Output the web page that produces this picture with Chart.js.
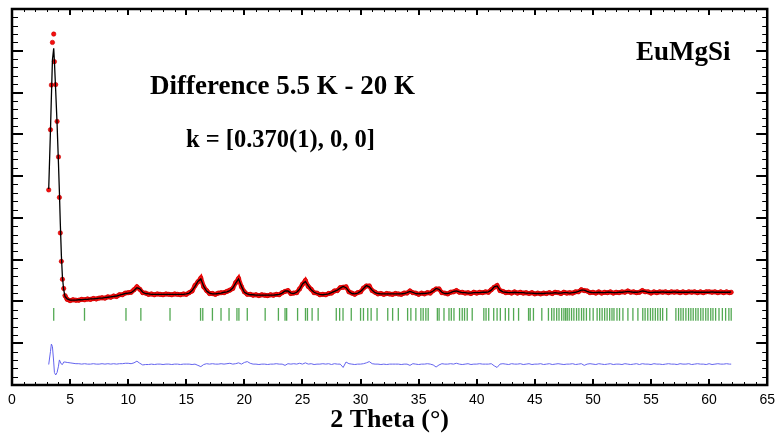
<!DOCTYPE html>
<html>
<head>
<meta charset="utf-8">
<script src="https://cdn.jsdelivr.net/npm/chart.js@4.4.1/dist/chart.umd.min.js"></script>
<style>
  html, body { margin: 0; padding: 0; background: #fff; }
</style>
</head>
<body>
<canvas id="chart" width="782" height="440"></canvas>
<script>
/* EuMgSi neutron difference pattern (5.5 K - 20 K) */

// 2 theta grid (deg)
const theta = [
  3.16, 3.31, 3.39, 3.48, 3.59, 3.65, 3.76, 3.88, 4.00, 4.08, 4.16, 4.25, 4.34, 4.45, 4.56, 4.75,
  5, 5.25, 5.5, 5.75, 6, 6.25, 6.5, 6.75, 7, 7.25, 7.5, 7.75, 8, 8.25, 8.5, 8.75,
  9, 9.25, 9.5, 9.75, 10, 10.25, 10.5, 10.75, 11, 11.25, 11.5, 11.75, 12, 12.25, 12.5, 12.75,
  13, 13.25, 13.5, 13.75, 14, 14.25, 14.5, 14.75, 15, 15.25, 15.5, 15.75, 16, 16.25, 16.5, 16.75,
  17, 17.25, 17.5, 17.75, 18, 18.25, 18.5, 18.75, 19, 19.25, 19.5, 19.75, 20, 20.25, 20.5, 20.75,
  21, 21.25, 21.5, 21.75, 22, 22.25, 22.5, 22.75, 23, 23.25, 23.5, 23.75, 24, 24.25, 24.5, 24.75,
  25, 25.25, 25.5, 25.75, 26, 26.25, 26.5, 26.75, 27, 27.25, 27.5, 27.75, 28, 28.25, 28.5, 28.75,
  29, 29.25, 29.5, 29.75, 30, 30.25, 30.5, 30.75, 31, 31.25, 31.5, 31.75, 32, 32.25, 32.5, 32.75,
  33, 33.25, 33.5, 33.75, 34, 34.25, 34.5, 34.75, 35, 35.25, 35.5, 35.75, 36, 36.25, 36.5, 36.75,
  37, 37.25, 37.5, 37.75, 38, 38.25, 38.5, 38.75, 39, 39.25, 39.5, 39.75, 40, 40.25, 40.5, 40.75,
  41, 41.25, 41.5, 41.75, 42, 42.25, 42.5, 42.75, 43, 43.25, 43.5, 43.75, 44, 44.25, 44.5, 44.75,
  45, 45.25, 45.5, 45.75, 46, 46.25, 46.5, 46.75, 47, 47.25, 47.5, 47.75, 48, 48.25, 48.5, 48.75,
  49, 49.25, 49.5, 49.75, 50, 50.25, 50.5, 50.75, 51, 51.25, 51.5, 51.75, 52, 52.25, 52.5, 52.75,
  53, 53.25, 53.5, 53.75, 54, 54.25, 54.5, 54.75, 55, 55.25, 55.5, 55.75, 56, 56.25, 56.5, 56.75,
  57, 57.25, 57.5, 57.75, 58, 58.25, 58.5, 58.75, 59, 59.25, 59.5, 59.75, 60, 60.25, 60.5, 60.75,
  61, 61.25, 61.5, 61.75, 61.9
];

// observed intensity (arb. units, same grid)
const observed = [
  4.67, 6.11, 7.18, 8.20, 8.40, 7.74, 7.19, 6.31, 5.46, 4.49, 3.64, 2.96, 2.53, 2.31, 2.14, 2.05,
  2.02, 2.04, 2.03, 2.03, 2.05, 2.04, 2.06, 2.05, 2.07, 2.06, 2.08, 2.09, 2.08, 2.11, 2.10, 2.13,
  2.12, 2.16, 2.16, 2.20, 2.21, 2.22, 2.28, 2.35, 2.29, 2.21, 2.20, 2.17, 2.18, 2.16, 2.18, 2.17,
  2.16, 2.18, 2.17, 2.16, 2.18, 2.17, 2.16, 2.18, 2.17, 2.21, 2.25, 2.38, 2.47, 2.56, 2.35, 2.26,
  2.19, 2.19, 2.17, 2.20, 2.21, 2.21, 2.24, 2.27, 2.31, 2.45, 2.55, 2.35, 2.23, 2.17, 2.17, 2.15,
  2.16, 2.14, 2.16, 2.15, 2.14, 2.16, 2.15, 2.17, 2.16, 2.21, 2.24, 2.26, 2.19, 2.20, 2.21, 2.30,
  2.41, 2.50, 2.36, 2.29, 2.21, 2.20, 2.16, 2.17, 2.16, 2.19, 2.20, 2.25, 2.26, 2.33, 2.34, 2.35,
  2.23, 2.20, 2.17, 2.21, 2.23, 2.32, 2.37, 2.37, 2.26, 2.22, 2.18, 2.19, 2.17, 2.19, 2.18, 2.17,
  2.19, 2.18, 2.17, 2.20, 2.20, 2.25, 2.21, 2.20, 2.17, 2.20, 2.18, 2.21, 2.20, 2.26, 2.30, 2.30,
  2.21, 2.20, 2.18, 2.22, 2.23, 2.26, 2.22, 2.22, 2.20, 2.21, 2.19, 2.22, 2.20, 2.22, 2.21, 2.23,
  2.22, 2.28, 2.34, 2.38, 2.26, 2.24, 2.21, 2.22, 2.20, 2.23, 2.20, 2.22, 2.20, 2.21, 2.19, 2.21,
  2.18, 2.20, 2.18, 2.20, 2.19, 2.21, 2.19, 2.22, 2.21, 2.19, 2.22, 2.20, 2.21, 2.20, 2.23, 2.23,
  2.28, 2.26, 2.25, 2.21, 2.22, 2.20, 2.23, 2.20, 2.22, 2.21, 2.23, 2.20, 2.22, 2.21, 2.23, 2.22,
  2.25, 2.22, 2.23, 2.21, 2.22, 2.26, 2.23, 2.23, 2.20, 2.23, 2.21, 2.23, 2.22, 2.23, 2.21, 2.23,
  2.22, 2.23, 2.21, 2.23, 2.21, 2.23, 2.22, 2.23, 2.21, 2.23, 2.21, 2.23, 2.23, 2.22, 2.23, 2.21,
  2.23, 2.21, 2.23, 2.21, 2.22
];

// calculated profile
const calculated = [
  4.69, 6.08, 6.90, 7.78, 8.06, 7.75, 7.05, 6.25, 5.30, 4.62, 3.85, 3.10, 2.58, 2.28, 2.12, 2.06,
  2.03, 2.03, 2.03, 2.04, 2.04, 2.05, 2.05, 2.06, 2.06, 2.07, 2.08, 2.08, 2.09, 2.10, 2.11, 2.12,
  2.13, 2.15, 2.17, 2.19, 2.20, 2.21, 2.26, 2.33, 2.30, 2.22, 2.19, 2.18, 2.17, 2.17, 2.17, 2.17,
  2.17, 2.17, 2.17, 2.17, 2.17, 2.17, 2.17, 2.17, 2.18, 2.20, 2.26, 2.36, 2.48, 2.54, 2.36, 2.25,
  2.20, 2.18, 2.18, 2.19, 2.20, 2.22, 2.23, 2.26, 2.32, 2.44, 2.54, 2.36, 2.22, 2.18, 2.16, 2.16,
  2.15, 2.15, 2.15, 2.15, 2.15, 2.15, 2.15, 2.16, 2.17, 2.20, 2.25, 2.25, 2.20, 2.19, 2.22, 2.29,
  2.42, 2.48, 2.37, 2.28, 2.22, 2.19, 2.17, 2.16, 2.17, 2.18, 2.21, 2.24, 2.27, 2.32, 2.36, 2.33,
  2.24, 2.19, 2.18, 2.20, 2.24, 2.31, 2.38, 2.35, 2.27, 2.21, 2.19, 2.18, 2.18, 2.18, 2.18, 2.18,
  2.18, 2.18, 2.18, 2.19, 2.21, 2.24, 2.22, 2.19, 2.18, 2.19, 2.19, 2.20, 2.21, 2.25, 2.31, 2.29,
  2.22, 2.19, 2.19, 2.21, 2.24, 2.25, 2.23, 2.21, 2.21, 2.20, 2.20, 2.21, 2.21, 2.21, 2.22, 2.22,
  2.23, 2.27, 2.35, 2.37, 2.27, 2.23, 2.22, 2.21, 2.21, 2.22, 2.21, 2.21, 2.21, 2.20, 2.20, 2.20,
  2.19, 2.19, 2.19, 2.19, 2.20, 2.20, 2.20, 2.21, 2.20, 2.20, 2.21, 2.21, 2.20, 2.21, 2.22, 2.24,
  2.27, 2.27, 2.24, 2.22, 2.21, 2.21, 2.22, 2.21, 2.21, 2.22, 2.22, 2.21, 2.21, 2.22, 2.22, 2.23,
  2.24, 2.23, 2.22, 2.22, 2.23, 2.25, 2.24, 2.22, 2.21, 2.22, 2.22, 2.22, 2.23, 2.22, 2.22, 2.22,
  2.23, 2.22, 2.22, 2.22, 2.22, 2.22, 2.23, 2.22, 2.22, 2.22, 2.22, 2.22, 2.22, 2.23, 2.22, 2.22,
  2.22, 2.22, 2.22, 2.22, 2.23
];

// obs - calc, drawn with its own offset below the tick row
const difference = [
  0.49, 0.80, 0.98, 0.92, 0.55, 0.30, 0.24, 0.30, 0.45, 0.60, 0.55, 0.50, 0.49, 0.55, 0.55, 0.54,
  0.53, 0.52, 0.51, 0.51, 0.50, 0.51, 0.50, 0.50, 0.51, 0.50, 0.50, 0.51, 0.50, 0.51, 0.50, 0.51,
  0.50, 0.51, 0.51, 0.52, 0.52, 0.51, 0.53, 0.57, 0.52, 0.48, 0.49, 0.49, 0.50, 0.49, 0.50, 0.50,
  0.49, 0.50, 0.50, 0.49, 0.50, 0.50, 0.49, 0.50, 0.50, 0.50, 0.49, 0.50, 0.47, 0.44, 0.49, 0.51,
  0.50, 0.51, 0.50, 0.50, 0.51, 0.50, 0.51, 0.52, 0.50, 0.51, 0.53, 0.50, 0.54, 0.56, 0.52, 0.50,
  0.50, 0.49, 0.50, 0.50, 0.49, 0.50, 0.50, 0.51, 0.50, 0.50, 0.47, 0.51, 0.50, 0.51, 0.50, 0.52,
  0.50, 0.53, 0.50, 0.51, 0.49, 0.50, 0.50, 0.51, 0.50, 0.51, 0.49, 0.51, 0.50, 0.50, 0.42, 0.55,
  0.51, 0.50, 0.49, 0.50, 0.50, 0.51, 0.53, 0.56, 0.51, 0.50, 0.50, 0.49, 0.50, 0.49, 0.50, 0.50,
  0.50, 0.50, 0.49, 0.50, 0.50, 0.47, 0.51, 0.50, 0.49, 0.50, 0.50, 0.51, 0.50, 0.48, 0.43, 0.48,
  0.51, 0.50, 0.50, 0.51, 0.50, 0.52, 0.50, 0.49, 0.50, 0.51, 0.49, 0.50, 0.50, 0.51, 0.50, 0.50,
  0.50, 0.51, 0.46, 0.42, 0.50, 0.51, 0.50, 0.49, 0.51, 0.50, 0.50, 0.51, 0.49, 0.50, 0.51, 0.49,
  0.50, 0.50, 0.51, 0.49, 0.50, 0.51, 0.49, 0.50, 0.51, 0.50, 0.49, 0.50, 0.50, 0.51, 0.49, 0.50,
  0.51, 0.47, 0.50, 0.51, 0.50, 0.49, 0.51, 0.50, 0.49, 0.50, 0.51, 0.49, 0.50, 0.50, 0.49, 0.51,
  0.50, 0.49, 0.50, 0.51, 0.49, 0.51, 0.50, 0.50, 0.49, 0.51, 0.50, 0.50, 0.49, 0.50, 0.51, 0.50,
  0.50, 0.49, 0.51, 0.50, 0.50, 0.51, 0.49, 0.50, 0.51, 0.50, 0.50, 0.49, 0.51, 0.49, 0.50, 0.51,
  0.50, 0.50, 0.51, 0.50, 0.50
];

// magnetic reflection positions (2 theta)
const braggPositions = [
  3.59, 6.24, 9.81, 11.09, 13.60, 16.23, 16.42, 17.25, 17.99, 18.68, 19.36, 19.53, 20.25,
  21.79, 22.93, 23.50, 23.64, 24.58, 25.26, 25.43, 25.83, 26.35, 27.91, 28.20, 28.49, 29.20,
  30.00, 30.25, 30.62, 30.91, 31.42, 32.34, 32.76, 33.25, 34.05, 34.33, 34.76, 35.19, 35.39,
  35.62, 35.82, 36.61, 36.76, 37.18, 37.61, 37.81, 38.04, 38.52, 38.75, 38.95, 39.18, 39.61,
  40.61, 40.80, 41.03, 41.46, 41.75, 42.03, 42.46, 42.75, 43.17, 43.60, 44.46, 44.60, 44.88,
  45.60, 46.17, 46.45, 46.65, 46.88, 47.08, 47.31, 47.50, 47.65, 47.79, 47.96, 48.16, 48.36,
  48.59, 48.79, 49.02, 49.21, 49.44, 49.73, 50.02, 50.36, 50.58, 50.79, 51.01, 51.22, 51.44,
  51.64, 51.81, 52.07, 52.29, 52.58, 53.01, 53.44, 53.87, 54.29, 54.49, 54.72, 54.95, 55.15,
  55.37, 55.58, 55.80, 56.00, 56.35, 57.14, 57.37, 57.57, 57.77, 58.00, 58.23, 58.43, 58.63,
  58.85, 59.05, 59.28, 59.48, 59.71, 59.91, 60.14, 60.33, 60.56, 60.85, 61.14, 61.42, 61.70, 61.90
];
const braggLevel = 1.69;

const xMin = 0, xMax = 65, xStep = 5;
const yMin = 0, yMax = 9;

const RED = 'rgb(245, 15, 15)';
const SERIF = '"Liberation Serif", "Times New Roman", serif';

// box frame + inward ticks on all four sides, plus the text labels
const frameTicks = {
  id: 'frameTicks',
  afterDatasetsDraw(chart) {
    const { ctx, chartArea: a, scales: { x, y } } = chart;
    ctx.save();
    ctx.strokeStyle = '#000';

    // minor ticks
    ctx.lineWidth = 1;
    ctx.beginPath();
    for (let v = xMin; v <= xMax; v++) {
      if (v % xStep === 0) continue;
      const px = Math.round(x.getPixelForValue(v)) + 0.5;
      ctx.moveTo(px, a.bottom); ctx.lineTo(px, a.bottom - 3);
      ctx.moveTo(px, a.top); ctx.lineTo(px, a.top + 3);
    }
    for (let i = 0; i <= yMax * 5; i++) {
      if (i % 5 === 0) continue;
      const py = Math.round(y.getPixelForValue(i / 5)) + 0.5;
      ctx.moveTo(a.left, py); ctx.lineTo(a.left + 6, py);
      ctx.moveTo(a.right, py); ctx.lineTo(a.right - 5, py);
    }
    ctx.stroke();

    // major ticks
    ctx.lineWidth = 2;
    ctx.beginPath();
    for (let v = xMin; v <= xMax; v += xStep) {
      const px = Math.round(x.getPixelForValue(v));
      ctx.moveTo(px, a.bottom); ctx.lineTo(px, a.bottom - 6);
      ctx.moveTo(px, a.top); ctx.lineTo(px, a.top + 6);
    }
    for (let v = yMin; v <= yMax; v++) {
      const py = Math.round(y.getPixelForValue(v));
      ctx.moveTo(a.left, py); ctx.lineTo(a.left + 11, py);
      ctx.moveTo(a.right, py); ctx.lineTo(a.right - 11, py);
    }
    ctx.stroke();

    ctx.lineWidth = 2.5;
    ctx.strokeRect(a.left, a.top, a.right - a.left, a.bottom - a.top);

    ctx.fillStyle = '#000';
    ctx.textBaseline = 'alphabetic';
    ctx.textAlign = 'left';
    ctx.font = 'bold 27px ' + SERIF;
    ctx.fillText('Difference 5.5 K - 20 K', 150, 94);
    ctx.font = 'bold 24.5px ' + SERIF;
    ctx.fillText('k = [0.370(1), 0, 0]', 186, 147);
    ctx.font = 'bold 27px ' + SERIF;
    ctx.fillText('EuMgSi', 636, 60);
    ctx.restore();
  }
};

const pts = vals => theta.map((t, i) => ({ x: t, y: vals[i] }));

new Chart(document.getElementById('chart'), {
  type: 'scatter',
  data: {
    datasets: [
      {
        label: 'Calculated',
        data: pts(calculated),
        showLine: true,
        borderColor: '#000',
        borderWidth: 1.3,
        pointRadius: 0,
        order: 0
      },
      {
        label: 'Observed',
        data: pts(observed),
        showLine: true,
        borderColor: RED,
        borderWidth: 4.5,
        segment: {
          borderColor: c => (c.p0.parsed.x < 4.5 ? 'rgba(0,0,0,0)' : RED)
        },
        pointRadius: 2.2,
        pointBackgroundColor: RED,
        pointBorderColor: 'rgb(200, 0, 0)',
        pointBorderWidth: 0.6,
        order: 3
      },
      {
        label: 'Bragg',
        data: braggPositions.map(t => ({ x: t, y: braggLevel })),
        showLine: false,
        pointStyle: 'line',
        rotation: 90,
        pointRadius: 6.3,
        pointBorderColor: 'rgba(25, 140, 25, 0.75)',
        pointBorderWidth: 1.3,
        order: 2
      },
      {
        label: 'Difference',
        data: pts(difference),
        showLine: true,
        borderColor: 'rgb(100, 100, 238)',
        borderWidth: 1,
        pointRadius: 0,
        order: 2
      }
    ]
  },
  options: {
    responsive: false,
    animation: false,
    layout: { padding: { left: 12, right: 9, top: 9, bottom: 0 } },
    elements: { line: { tension: 0 } },
    plugins: {
      legend: { display: false },
      tooltip: { enabled: false }
    },
    scales: {
      x: {
        type: 'linear',
        min: xMin,
        max: xMax,
        grid: { display: false, drawTicks: false },
        border: { display: false },
        ticks: {
          stepSize: xStep,
          autoSkip: false,
          maxRotation: 0,
          padding: 7,
          color: '#000',
          font: { family: '"Liberation Sans", Arial, sans-serif', size: 14 }
        },
        title: {
          display: true,
          text: '2 Theta (°)',
          color: '#000',
          font: { family: SERIF, size: 26, weight: 'bold' },
          padding: { top: 0, bottom: 4 }
        },
        afterFit: s => { s.height = 55; }
      },
      y: {
        display: false,
        min: yMin,
        max: yMax
      }
    }
  },
  plugins: [frameTicks]
});
</script>
</body>
</html>
